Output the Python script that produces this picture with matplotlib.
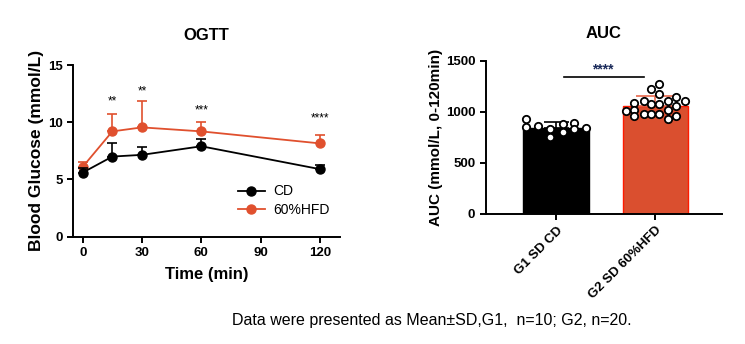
import matplotlib
matplotlib.use("Agg")
import matplotlib.pyplot as plt
from matplotlib.lines import Line2D
import numpy as np

plt.rcParams['font.family'] = ['Liberation Sans', 'DejaVu Sans']

# ---- OGTT data ----
time_min = [0, 15, 30, 60, 120]
cd_mean = [5.6, 7.0, 7.15, 7.9, 5.9]
cd_sd = [0.4, 1.2, 0.65, 0.6, 0.4]
hfd_mean = [6.1, 9.2, 9.55, 9.2, 8.15]
hfd_sd = [0.4, 1.5, 2.3, 0.8, 0.75]
ogtt_sig = ["", "**", "**", "***", "****"]
ogtt_sig_y = [0, 11.8, 12.65, 11.05, 10.3]

# ---- AUC data ----
groups = ["G1 SD CD", "G2 SD 60%HFD"]
auc_mean = [845, 1057]
auc_sd = [52, 98]
cd_points = [926, 854, 861, 829, 750, 881, 802, 893, 835, 838]
hfd_points = [1011, 1083, 1018, 953, 1106, 976, 1223, 1073, 976,
              1272, 1174, 1073, 976, 1106, 1018, 926, 1148, 1057, 959, 1106]
cd_jitter = [-0.30, -0.30, -0.18, -0.06, -0.06, 0.064, 0.064, 0.18, 0.18, 0.30]
hfd_jitter = [-0.30, -0.22, -0.22, -0.22, -0.12, -0.12, -0.04, -0.04, -0.04,
              0.04, 0.04, 0.04, 0.04, 0.125, 0.125, 0.125, 0.21, 0.21, 0.21, 0.30]
auc_sig = "****"

BLACK = "#000000"
RED = "#E0502E"
BAR_RED = "#DA4F2F"

fig = plt.figure(figsize=(7.45, 3.44), dpi=100)

# ---------------- left: OGTT ----------------
ax = fig.add_axes([0.098, 0.312, 0.358, 0.499])
ax.errorbar(time_min, cd_mean, yerr=[np.zeros(len(cd_sd)), cd_sd], color=BLACK,
            marker='o', ms=6.5, lw=1.3, capsize=3.5, elinewidth=1.2, capthick=1.2,
            zorder=3)
ax.errorbar(time_min, hfd_mean, yerr=[np.zeros(len(hfd_sd)), hfd_sd], color=RED,
            marker='o', ms=6.5, lw=1.3, capsize=3.5, elinewidth=1.2, capthick=1.2,
            zorder=2)
for t, s, y in zip(time_min, ogtt_sig, ogtt_sig_y):
    if s:
        ax.text(t, y, s, ha='center', va='center', fontsize=8.5)
ax.set_xlim(-4.9, 130)
ax.set_ylim(0, 15)
ax.set_xticks([0, 30, 60, 90, 120])
ax.set_yticks([0, 5, 10, 15])
for sp in ['top', 'right']:
    ax.spines[sp].set_visible(False)
for sp in ['left', 'bottom']:
    ax.spines[sp].set_linewidth(1.4)
ax.tick_params(width=1.4, length=4, labelsize=9.5)
for lab in ax.get_xticklabels() + ax.get_yticklabels():
    lab.set_fontweight('bold')
ax.set_xlabel("Time (min)", fontsize=12, fontweight='bold', labelpad=6)
ax.set_ylabel("Blood Glucose (mmol/L)", fontsize=12.5, fontweight='bold', labelpad=3)
ax.set_title("OGTT", fontsize=12, fontweight='bold', pad=18)
handles = [Line2D([], [], color=BLACK, marker='o', ms=6.5, lw=1.3),
           Line2D([], [], color=RED, marker='o', ms=6.5, lw=1.3)]
ax.legend(handles, ["CD", "60%HFD"], loc='lower right', bbox_to_anchor=(1.0, 0.06),
          frameon=False, fontsize=10, handlelength=2.0, handletextpad=0.6,
          labelspacing=0.3, borderaxespad=0.3)

# ---------------- right: AUC ----------------
ax2 = fig.add_axes([0.652, 0.378, 0.317, 0.446])
xpos = np.arange(len(groups))
ax2.bar(xpos[0], auc_mean[0], width=0.66, color=BLACK, edgecolor=BLACK, lw=1, zorder=1)
ax2.bar(xpos[1], auc_mean[1], width=0.66, color=BAR_RED, edgecolor="#FF1A00", lw=1, zorder=1)
ax2.errorbar(xpos[0], auc_mean[0], yerr=[[0], [auc_sd[0]]], color=BLACK,
             capsize=9, elinewidth=1.2, capthick=1.2, zorder=2)
ax2.errorbar(xpos[1], auc_mean[1], yerr=[[0], [auc_sd[1]]], color="#E8674C",
             capsize=14, elinewidth=1.2, capthick=1.2, zorder=2)
ax2.scatter(xpos[0] + np.array(cd_jitter), cd_points, s=28, facecolor='white',
            edgecolor=BLACK, lw=1.3, zorder=3)
ax2.scatter(xpos[1] + np.array(hfd_jitter), hfd_points, s=28, facecolor='white',
            edgecolor=BLACK, lw=1.3, zorder=3)
ax2.plot([0.08, 0.88], [1337, 1337], color=BLACK, lw=1.2)
ax2.text(0.47, 1410, auc_sig, ha='center', va='center', fontsize=10,
         fontweight='bold', color='#1a2a5a')
ax2.set_xlim(-0.71, 1.67)
ax2.set_ylim(0, 1500)
ax2.set_yticks([0, 500, 1000, 1500])
ax2.set_xticks(xpos)
ax2.set_xticklabels(groups, rotation=45, ha='right', rotation_mode='anchor')
for sp in ['top', 'right']:
    ax2.spines[sp].set_visible(False)
for sp in ['left', 'bottom']:
    ax2.spines[sp].set_linewidth(1.4)
ax2.tick_params(width=1.4, length=4, labelsize=9.5)
for lab in ax2.get_xticklabels() + ax2.get_yticklabels():
    lab.set_fontweight('bold')
ax2.set_ylabel("AUC (mmol/L, 0-120min)", fontsize=11, fontweight='bold', labelpad=2)
ax2.set_title("AUC", fontsize=12, fontweight='bold', pad=16)

fig.text(232 / 745, 1 - 320 / 344, "Data were presented as Mean±SD,G1,  n=10; G2, n=20.",
         fontsize=11.5, ha='left', va='center')

fig.savefig("out.png", dpi=100, facecolor='white')
